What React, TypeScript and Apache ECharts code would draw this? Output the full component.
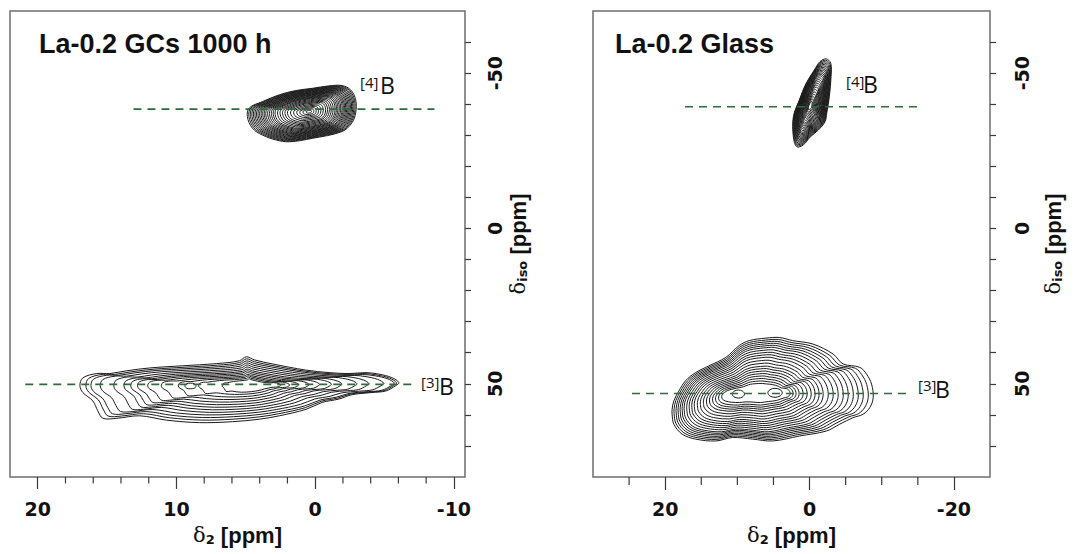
import React, { useEffect, useRef } from "react";
import * as echarts from "echarts";

// ---------- axes ----------
const leftXRange = [-10.8, 22];
const rightXRange = [-25, 30];
const yRange = [-70, 80];

const leftXMajor = [20, 10, 0, -10];
const leftXMinor = [18, 16, 14, 12, 8, 6, 4, 2, -2, -4, -6, -8];
const rightXMajor = [20, 0, -20];
const rightXMinor = [25, 15, 10, 5, -5, -10, -15];
const yTicks = [-60, -50, -40, -30, -20, -10, 0, 10, 20, 30, 40, 50, 60, 70];
const yLabels = [-50, 0, 50];

const titles = ["La-0.2 GCs 1000 h", "La-0.2 Glass"];

// ---------- left panel: La-0.2 GCs 1000 h ----------
// [4]B peak: outer contour (δ2, δiso) and centre
const gc4Outline = [
  [4.75, -38.8], [3.82, -40.8], [2.6, -43.0], [1.39, -44.4], [0.22, -45.1],
  [-1.0, -45.9], [-1.94, -46.0], [-2.56, -44.6], [-2.92, -41.4], [-2.92, -37.2],
  [-2.65, -34.0], [-1.94, -31.2], [0.22, -29.0], [1.87, -27.9], [2.83, -28.5],
  [3.82, -30.1], [4.53, -32.3], [4.89, -36.0],
];
const gc4Center = [0.44, -37.6];
const gc4Levels = [1, 0.975, 0.95, 0.925, 0.9, 0.875, 0.85, 0.825, 0.8, 0.775, 0.75, 0.725, 0.7, 0.67, 0.64, 0.61, 0.58, 0.55, 0.51, 0.47, 0.43, 0.39, 0.35, 0.3, 0.25, 0.2, 0.15, 0.1, 0.05];

// [3]B peak
const gc3Outline = [
  [16.96, 50.6], [16.75, 48.1], [15.74, 46.7], [14.81, 46.7], [13.58, 45.8],
  [11.93, 44.9], [9.56, 44.2], [7.12, 43.5], [5.47, 42.6], [4.96, 41.3],
  [4.38, 42.3], [3.09, 43.6], [0.65, 45.6], [-1.0, 46.4], [-2.44, 46.7],
  [-3.66, 46.4], [-4.6, 46.9], [-5.52, 48.0], [-6.03, 49.6], [-5.8, 50.6],
  [-5.1, 52.3], [-4.1, 52.8], [-2.66, 53.5], [-1.72, 54.9], [-0.5, 56.0],
  [0.65, 58.2], [2.59, 60.3], [4.03, 61.4], [5.97, 62.2], [8.34, 62.5],
  [10.71, 61.7], [12.65, 60.3], [14.3, 61.1], [15.3, 61.1], [15.67, 58.7],
  [16.03, 55.5], [16.75, 52.8],
];
const gc3Center = [4.74, 50.7];
// per level: [left, right, top, bottom] shrink factors
const gc3Levels = [
  [1, 1, 1, 1], [0.965, 0.985, 0.93, 0.93], [0.935, 0.97, 0.86, 0.86], [0.88, 0.9, 0.79, 0.79],
  [0.8, 0.8, 0.72, 0.72], [0.74, 0.72, 0.65, 0.65], [0.7, 0.62, 0.58, 0.58], [0.66, 0.55, 0.52, 0.51],
  [0.6, 0.47, 0.46, 0.44], [0.52, 0.4, 0.4, 0.37], [0.42, 0.33, 0.35, 0.3], [0.3, 0.27, 0.3, 0.23],
  [0.16, 0.21, 0.25, 0.17],
];
const gc3Lobe = [
  [9.39, 50.7], [9.27, 50.0], [8.99, 49.8], [8.71, 50.0], [8.59, 50.7],
  [8.71, 51.4], [8.99, 51.6], [9.27, 51.4],
];

// ---------- right panel: La-0.2 Glass ----------
const gl4Outline = [
  [-1.45, -53.7], [-2.29, -54.6], [-2.94, -53.2], [-2.98, -48.9], [-2.74, -42.4],
  [-2.38, -37.1], [-2.15, -34.4], [-1.22, -31.7], [-0.07, -29.4], [0.86, -26.9],
  [1.77, -26.3], [2.24, -29.5], [2.24, -36.0], [1.41, -41.4], [0.48, -46.7],
  [-0.66, -51.0],
];
const gl4Center = [-0.07, -39.4];
const gl4Levels = [1, 0.97, 0.94, 0.91, 0.88, 0.85, 0.82, 0.79, 0.76, 0.73, 0.7, 0.67, 0.64, 0.6, 0.56, 0.52, 0.48, 0.44, 0.4, 0.35, 0.3, 0.25, 0.2, 0.15, 0.1];

const gl3Outline = [
  [19.04, 58.2], [18.8, 55.5], [18.1, 52.3], [17.17, 49.0], [15.78, 46.4],
  [13.93, 44.2], [11.6, 41.5], [9.75, 37.7], [8.36, 36.1], [6.03, 35.3],
  [4.18, 35.1], [2.33, 36.1], [-0.46, 37.2], [-3.25, 40.4], [-4.64, 43.6],
  [-6.96, 44.7], [-7.9, 46.9], [-8.59, 50.1], [-8.82, 54.4], [-8.36, 57.6],
  [-7.42, 59.8], [-6.03, 60.9], [-4.18, 63.0], [-2.33, 65.2], [1.39, 66.8],
  [5.11, 68.4], [7.9, 67.8], [10.68, 67.3], [12.99, 68.4], [15.78, 67.8],
  [17.65, 66.2], [18.8, 63.0], [19.04, 59.8],
];
const gl3Center = [7.55, 52.9];
const gl3Left = [1, 0.976, 0.951, 0.927, 0.902, 0.878, 0.854, 0.823, 0.793, 0.762, 0.732, 0.695, 0.659, 0.622, 0.585, 0.549, 0.512, 0.476, 0.439, 0.402];
const gl3Right = [1, 0.958, 0.915, 0.873, 0.831, 0.788, 0.746, 0.703, 0.661, 0.619, 0.576, 0.542, 0.508, 0.475, 0.441, 0.407, 0.373, 0.347, 0.322, 0.297];
const gl3Top = [1, 0.964, 0.929, 0.893, 0.857, 0.821, 0.777, 0.732, 0.688, 0.643, 0.589, 0.536, 0.482, 0.438, 0.393, 0.348, 0.304, 0.259, 0.214, 0.17];
const gl3Bottom = [1, 0.968, 0.936, 0.904, 0.872, 0.84, 0.809, 0.766, 0.723, 0.681, 0.638, 0.596, 0.543, 0.489, 0.436, 0.383, 0.34, 0.298, 0.255, 0.202];
const gl3Lobe1 = [
  [10.71, 53.3], [10.46, 52.4], [9.86, 52.0], [9.26, 52.4], [9.01, 53.3],
  [9.26, 54.2], [9.86, 54.6], [10.46, 54.2],
];
const gl3Lobe2 = [
  [5.78, 52.9], [5.49, 51.9], [4.78, 51.45], [4.07, 51.9], [3.78, 52.9],
  [4.07, 53.9], [4.78, 54.35], [5.49, 53.9],
];

// ---------- reference lines (green dashed) ----------
const gc4Dash = [[13.1, -38.4], [-8.6, -38.4]];
const gc3Dash = [[20.9, 50.2], [-7.0, 50.2]];
const gl4Dash = [[17.25, -39.2], [-15.2, -39.2]];
const gl3Dash = [[24.6, 53.1], [-13.7, 53.1]];

const INK = "#1a1a1a";
const TICK = "#3a3a3a";
const GREEN = "#2f6b38";

function contour(outline: number[][], center: number[], levels: any[], gi: number) {
  return {
    type: "custom",
    xAxisIndex: gi,
    yAxisIndex: gi,
    silent: true,
    z: 2,
    data: levels.map((_: any, i: number) => [center[0], center[1], i]),
    encode: { x: 0, y: 1 },
    renderItem: (params: any, api: any) => {
      const lv = levels[params.dataIndex];
      const f = typeof lv === "number" ? [lv, lv, lv, lv] : lv;
      const [cx, cy] = center;
      const points = outline.map(([x, y]) => {
        const dx = x - cx;
        const dy = y - cy;
        const nx = cx + dx * (dx > 0 ? f[0] : f[1]);
        const ny = cy + dy * (dy < 0 ? f[2] : f[3]);
        return api.coord([nx, ny]);
      });
      return {
        type: "polygon",
        shape: { points, smooth: 0.35 },
        style: { fill: "none", stroke: INK, lineWidth: 1 },
      };
    },
  };
}

function minorTicks(values: number[], gi: number, len: number) {
  return {
    type: "custom",
    xAxisIndex: gi,
    yAxisIndex: gi,
    silent: true,
    clip: false,
    z: 3,
    data: values.map((v) => [v, yRange[1]]),
    encode: { x: 0, y: 1 },
    renderItem: (params: any, api: any) => {
      const p = api.coord([api.value(0), yRange[1]]);
      return {
        type: "line",
        shape: { x1: p[0], y1: p[1], x2: p[0], y2: p[1] + len },
        style: { stroke: TICK, lineWidth: 1.2 },
      };
    },
  };
}

function dash(data: number[][], gi: number) {
  return {
    type: "line",
    xAxisIndex: gi,
    yAxisIndex: gi,
    data,
    symbol: "none",
    silent: true,
    z: 5,
    lineStyle: { color: GREEN, width: 1.6, type: [8, 6] },
  };
}

const tickFont = { fontFamily: "DejaVu Sans", fontWeight: "bold", fontSize: 19, color: "#111" };
const nameRich = {
  d: { fontFamily: "DejaVu Serif", fontSize: 21, color: "#111" },
  s: { fontFamily: "DejaVu Sans", fontWeight: "bold", fontSize: 13, lineHeight: 8, verticalAlign: "bottom", color: "#111" },
  t: { fontFamily: "Liberation Sans", fontWeight: "bold", fontSize: 22, color: "#111" },
};

function xAxis(gi: number, range: number[], major: number[], majorLen: number) {
  return {
    gridIndex: gi,
    type: "value",
    inverse: true,
    min: range[0],
    max: range[1],
    position: "bottom",
    axisLine: { show: false, onZero: false },
    splitLine: { show: false },
    axisTick: { show: true, customValues: major, length: majorLen, lineStyle: { color: TICK, width: 1.2 } },
    axisLabel: { customValues: major, margin: 22, formatter: (v: number) => String(v), ...tickFont },
    name: "{d|δ}{s|2}{t| [ppm]}",
    nameLocation: "middle",
    nameGap: 47,
    nameTextStyle: { rich: nameRich },
  };
}

function yAxis(gi: number, labelMargin: number, nameGap: number) {
  return {
    gridIndex: gi,
    type: "value",
    inverse: true,
    min: yRange[0],
    max: yRange[1],
    position: "right",
    axisLine: { show: false, onZero: false },
    splitLine: { show: false },
    axisTick: { show: true, customValues: yTicks, length: 6, lineStyle: { color: TICK, width: 1.2 } },
    axisLabel: { customValues: yLabels, rotate: 90, margin: labelMargin, formatter: (v: number) => String(v), ...tickFont },
    name: "{d|δ}{s|iso}{t| [ppm]}",
    nameLocation: "middle",
    nameRotate: 90,
    nameGap,
    nameTextStyle: { rich: nameRich },
  };
}

function label(x: number, y: number, sup: string, sx: number, sy: number) {
  return [
    {
      type: "text", x: sx, y: sy,
      style: { text: sup, fontFamily: "Open Sans", fontSize: 15, fill: "#111", verticalAlign: "middle", textVerticalAlign: "middle" },
    },
    {
      type: "text", x, y,
      style: { text: "B", fontFamily: "Open Sans", fontSize: 23, fill: "#111", verticalAlign: "middle", textVerticalAlign: "middle" },
    },
  ];
}

export default function App() {
  const ref = useRef<HTMLDivElement>(null);
  useEffect(() => {
    document.body.style.margin = "0";
    if (!ref.current) return;
    const chart = echarts.init(ref.current, null, { renderer: "svg" });
    const titleStyle = { fontFamily: "Liberation Sans", fontWeight: "bold", fontSize: 27, fill: "#111", verticalAlign: "middle", textVerticalAlign: "middle" };
    chart.setOption({
      animation: false,
      backgroundColor: "#fff",
      grid: [
        { left: 10, top: 11, width: 455, height: 466, show: true, borderColor: "#6e6e6e", borderWidth: 1.5 },
        { left: 593, top: 11, width: 397, height: 466, show: true, borderColor: "#6e6e6e", borderWidth: 1.5 },
      ],
      xAxis: [xAxis(0, leftXRange, leftXMajor, 12), xAxis(1, rightXRange, rightXMajor, 13)],
      yAxis: [yAxis(0, 20, 42), yAxis(1, 22, 52)],
      series: [
        contour(gc4Outline, gc4Center, gc4Levels, 0),
        contour(gc3Outline, gc3Center, gc3Levels, 0),
        contour(gc3Lobe, [8.99, 50.7], [1], 0),
        contour(gl4Outline, gl4Center, gl4Levels, 1),
        contour(gl3Outline, gl3Center, gl3Left.map((l, i) => [l, gl3Right[i], gl3Top[i], gl3Bottom[i]]), 1),
        contour(gl3Lobe1, [9.86, 53.3], [1], 1),
        contour(gl3Lobe2, [4.78, 52.9], [1], 1),
        dash(gc4Dash, 0),
        dash(gc3Dash, 0),
        dash(gl4Dash, 1),
        dash(gl3Dash, 1),
        minorTicks(leftXMinor, 0, 6.5),
        minorTicks(rightXMinor, 1, 8),
      ],
      graphic: [
        { type: "text", x: 39, y: 44, style: { text: titles[0], ...titleStyle } },
        { type: "text", x: 615, y: 44, style: { text: titles[1], ...titleStyle } },
        ...label(380, 85, "[4]", 360, 82),
        ...label(439, 386, "[3]", 421, 382),
        ...label(863, 84, "[4]", 846, 81),
        ...label(935, 389, "[3]", 918, 385),
      ],
    });
    return () => chart.dispose();
  }, []);
  return <div ref={ref} style={{ width: 1080, height: 554 }} />;
}
